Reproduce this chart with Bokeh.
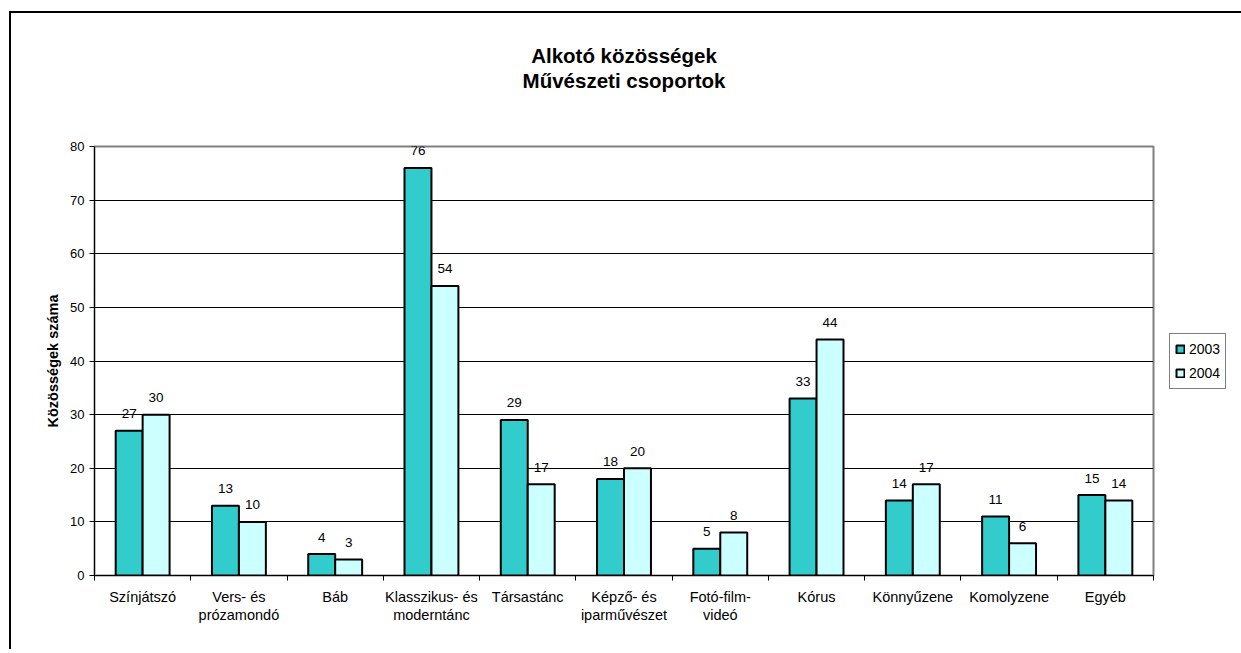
from bokeh.plotting import figure
from bokeh.models import (Range1d, FixedTicker, CustomJSTickFormatter, ColumnDataSource,
                          Legend, LegendItem, Title)
from bokeh.core.properties import value
from bokeh.embed import file_html
from bokeh.resources import INLINE
import numpy as np

title_lines = ["Alkotó közösségek", "Művészeti csoportok"]
categories = ["Színjátszó", "Vers- és\nprózamondó", "Báb", "Klasszikus- és\nmoderntánc",
              "Társastánc", "Képző- és\niparművészet", "Fotó-film-\nvideó", "Kórus",
              "Könnyűzene", "Komolyzene", "Egyéb"]
values_2003 = [27, 13, 4, 76, 29, 18, 5, 33, 14, 11, 15]
values_2004 = [30, 10, 3, 54, 17, 20, 8, 44, 17, 6, 14]
years = ["2003", "2004"]
y_ticks = [0, 10, 20, 30, 40, 50, 60, 70, 80]

FONT = "Liberation Sans"
C2003 = "#33CCCC"
C2004 = "#CCFFFF"

n = len(categories)
idx = np.arange(n)
bar_w = 0.28
src03 = ColumnDataSource(dict(x=idx + 0.5 - bar_w / 2, top=values_2003,
                              lab=[str(v) for v in values_2003]))
src04 = ColumnDataSource(dict(x=idx + 0.5 + bar_w / 2, top=values_2004,
                              lab=[str(v) for v in values_2004]))

p = figure(frame_width=1059, frame_height=429, output_backend="svg", toolbar_location=None,
           title=None, x_range=Range1d(0, n), y_range=Range1d(0, 80),
           min_border_left=83, min_border_right=0, min_border_top=133, min_border_bottom=74)
p.margin = (11, 0, 0, 9)
p.styles = {"border-left": "2px solid black", "border-top": "2px solid black"}


def make_title(text):
    t = Title(text=text, align="center", vertical_align="top")
    t.text_font = FONT
    t.text_font_size = "20.5px"
    t.text_font_style = "bold"
    t.text_color = "black"
    t.text_line_height = 1.15
    t.standoff = 0
    return t


# nearest the frame first, then the line above it
p.add_layout(make_title(title_lines[1] + "\n \n "), "above")
p.add_layout(make_title(title_lines[0]), "above")

p.outline_line_color = "#808080"
p.outline_line_width = 2
p.background_fill_color = "white"
p.border_fill_color = "white"

r03 = p.vbar(x="x", top="top", width=bar_w, source=src03, fill_color=C2003,
             line_color="black", line_width=2)
r04 = p.vbar(x="x", top="top", width=bar_w, source=src04, fill_color=C2004,
             line_color="black", line_width=2)

for s in (src03, src04):
    p.text(x="x", y="top", text="lab", source=s, text_align="center",
           text_baseline="middle", y_offset=-17, text_font=value(FONT),
           text_font_size="13.5px", text_color="black")

# x axis
p.xaxis.ticker = FixedTicker(ticks=list(idx + 0.5), minor_ticks=list(range(n + 1)))
p.xaxis.formatter = CustomJSTickFormatter(args=dict(labels=categories),
                                          code="return labels[Math.floor(tick)];")
p.xaxis.major_tick_line_color = None
p.xaxis.major_tick_out = 0
p.xaxis.major_tick_in = 0
p.xaxis.minor_tick_out = 5
p.xaxis.minor_tick_in = 0
p.xaxis.minor_tick_line_color = "black"
p.xaxis.axis_line_color = "black"
p.xaxis.major_label_standoff = 8
p.xaxis.major_label_text_font = FONT
p.xaxis.major_label_text_font_size = "14.5px"
p.xaxis.major_label_text_color = "black"
p.xaxis.major_label_text_line_height = 1.15

# y axis
p.yaxis.ticker = FixedTicker(ticks=y_ticks)
p.yaxis.minor_tick_line_color = None
p.yaxis.major_tick_out = 5
p.yaxis.major_tick_in = 0
p.yaxis.major_tick_line_color = "black"
p.yaxis.axis_line_color = "black"
p.yaxis.major_label_standoff = 5
p.yaxis.major_label_text_font = FONT
p.yaxis.major_label_text_font_size = "13px"
p.yaxis.major_label_text_color = "black"
p.yaxis.axis_label = "Közösségek száma"
p.yaxis.axis_label_text_font = FONT
p.yaxis.axis_label_text_font_size = "14.5px"
p.yaxis.axis_label_text_font_style = "bold"
p.yaxis.axis_label_text_color = "black"
p.yaxis.axis_label_standoff = 6

p.xgrid.grid_line_color = None
p.ygrid.ticker = FixedTicker(ticks=y_ticks[1:-1])
p.ygrid.grid_line_color = "black"
p.ygrid.grid_line_width = 1

legend = Legend(items=[LegendItem(label=years[0], renderers=[r03]),
                       LegendItem(label=years[1], renderers=[r04])],
                location="center_left", orientation="vertical")
legend.label_text_font = FONT
legend.label_text_font_size = "14px"
legend.label_text_color = "black"
legend.glyph_width = 10
legend.glyph_height = 10
legend.label_standoff = 4
legend.label_height = 20
legend.spacing = 4
legend.padding = 5
legend.margin = 16
legend.border_line_color = "black"
legend.border_line_width = 1
legend.background_fill_color = "white"
p.add_layout(legend, "right")

open("out.html", "w").write(file_html(p, INLINE))
